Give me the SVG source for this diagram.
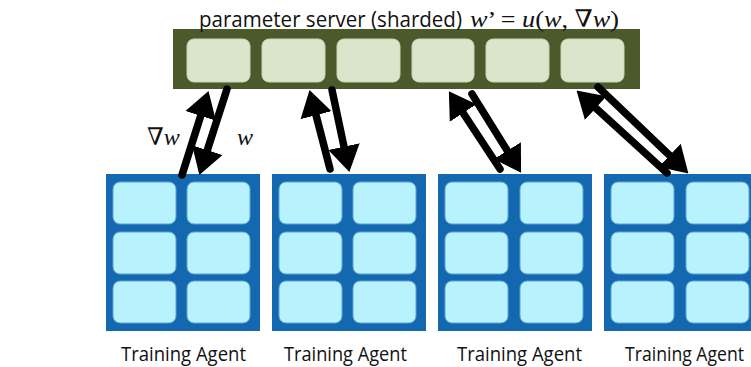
<svg xmlns="http://www.w3.org/2000/svg" width="751" height="367" viewBox="0 0 751 367">
  <defs>
    <marker id="ah" markerUnits="userSpaceOnUse" markerWidth="26" markerHeight="34" viewBox="0 0 26 34" refX="3" refY="17" orient="auto">
      <path d="M0,1 L26,17 L0,33 z" fill="#000"/>
    </marker>
  </defs>
  <style>
    .bar{fill:#4b5a2b}
    .scell{fill:#dbe5cb;stroke:#c9d6b3;stroke-width:1}
    .abox{fill:#1368b0}
    .acell{fill:#b7f2fd;stroke:#5fa6d9;stroke-width:1}
    .lbl{font-family:"Open Sans","Liberation Sans",sans-serif;font-size:20px;fill:#111}
    .top{font-size:21px}
    .math{font-family:"Liberation Serif","DejaVu Serif",serif;font-size:24px;font-style:italic;fill:#111}
    .conn line{stroke:#000;stroke-width:7.5;stroke-linecap:round;fill:none;marker-end:url(#ah)}
  </style>
  <rect width="751" height="367" fill="#fff"/>

  <g id="server">
    <rect class="bar" x="173" y="29" width="467" height="60"/>
    <rect class="scell" x="187" y="39" width="63" height="43" rx="7"/>
    <rect class="scell" x="262" y="39" width="63" height="43" rx="7"/>
    <rect class="scell" x="337" y="39" width="63" height="43" rx="7"/>
    <rect class="scell" x="412" y="39" width="62" height="43" rx="7"/>
    <rect class="scell" x="486" y="39" width="63" height="43" rx="7"/>
    <rect class="scell" x="561" y="39" width="63" height="43" rx="7"/>
    <text class="lbl top" x="199" y="27" textLength="263" lengthAdjust="spacingAndGlyphs">parameter server (sharded)</text>
    <text class="math" x="470" y="27" textLength="149" lengthAdjust="spacingAndGlyphs">w<tspan font-style="normal">’ = </tspan>u<tspan font-style="normal">(</tspan>w<tspan font-style="normal">, </tspan>∇w<tspan font-style="normal">)</tspan></text>
  </g>

  <g id="agent1">
    <rect class="abox" x="106" y="174" width="154" height="157"/>
    <rect class="acell" x="113" y="182" width="63" height="42" rx="7"/>
    <rect class="acell" x="187" y="182" width="63" height="42" rx="7"/>
    <rect class="acell" x="113" y="232" width="63" height="42" rx="7"/>
    <rect class="acell" x="187" y="232" width="63" height="42" rx="7"/>
    <rect class="acell" x="113" y="281" width="63" height="42" rx="7"/>
    <rect class="acell" x="187" y="281" width="63" height="42" rx="7"/>
    <text class="lbl" x="121" y="361" textLength="125" lengthAdjust="spacingAndGlyphs">Training Agent</text>
  </g>
  <g id="agent2">
    <rect class="abox" x="272" y="174" width="154" height="157"/>
    <rect class="acell" x="279" y="182" width="63" height="42" rx="7"/>
    <rect class="acell" x="353" y="182" width="63" height="42" rx="7"/>
    <rect class="acell" x="279" y="232" width="63" height="42" rx="7"/>
    <rect class="acell" x="353" y="232" width="63" height="42" rx="7"/>
    <rect class="acell" x="279" y="281" width="63" height="42" rx="7"/>
    <rect class="acell" x="353" y="281" width="63" height="42" rx="7"/>
    <text class="lbl" x="284" y="361" textLength="123" lengthAdjust="spacingAndGlyphs">Training Agent</text>
  </g>
  <g id="agent3">
    <rect class="abox" x="438" y="174" width="154" height="157"/>
    <rect class="acell" x="445" y="182" width="63" height="42" rx="7"/>
    <rect class="acell" x="520" y="182" width="63" height="42" rx="7"/>
    <rect class="acell" x="445" y="232" width="63" height="42" rx="7"/>
    <rect class="acell" x="520" y="232" width="63" height="42" rx="7"/>
    <rect class="acell" x="445" y="281" width="63" height="42" rx="7"/>
    <rect class="acell" x="520" y="281" width="63" height="42" rx="7"/>
    <text class="lbl" x="457" y="361" textLength="125" lengthAdjust="spacingAndGlyphs">Training Agent</text>
  </g>
  <g id="agent4">
    <rect class="abox" x="604" y="174" width="154" height="157"/>
    <rect class="acell" x="611" y="182" width="63" height="42" rx="7"/>
    <rect class="acell" x="686" y="182" width="63" height="42" rx="7"/>
    <rect class="acell" x="611" y="232" width="63" height="42" rx="7"/>
    <rect class="acell" x="686" y="232" width="63" height="42" rx="7"/>
    <rect class="acell" x="611" y="281" width="63" height="42" rx="7"/>
    <rect class="acell" x="686" y="281" width="63" height="42" rx="7"/>
    <text class="lbl" x="625" y="361" textLength="119" lengthAdjust="spacingAndGlyphs">Training Agent</text>
  </g>

  <g id="connectors" class="conn">
    <line x1="182" y1="175" x2="201.6" y2="113"/>
    <line x1="227" y1="89" x2="206.4" y2="153"/>
    <line x1="330" y1="169" x2="315.3" y2="112.3"/>
    <line x1="332" y1="90" x2="344.6" y2="149.5"/>
    <line x1="500" y1="169" x2="461.5" y2="110.5"/>
    <line x1="472" y1="94" x2="508.9" y2="153.2"/>
    <line x1="667" y1="173" x2="593.5" y2="106.1"/>
    <line x1="598" y1="87" x2="671.8" y2="157.5"/>
  </g>

  <g id="edge-labels">
    <text class="math" x="147" y="145">∇w</text>
    <text class="math" x="237" y="145">w</text>
  </g>
</svg>
